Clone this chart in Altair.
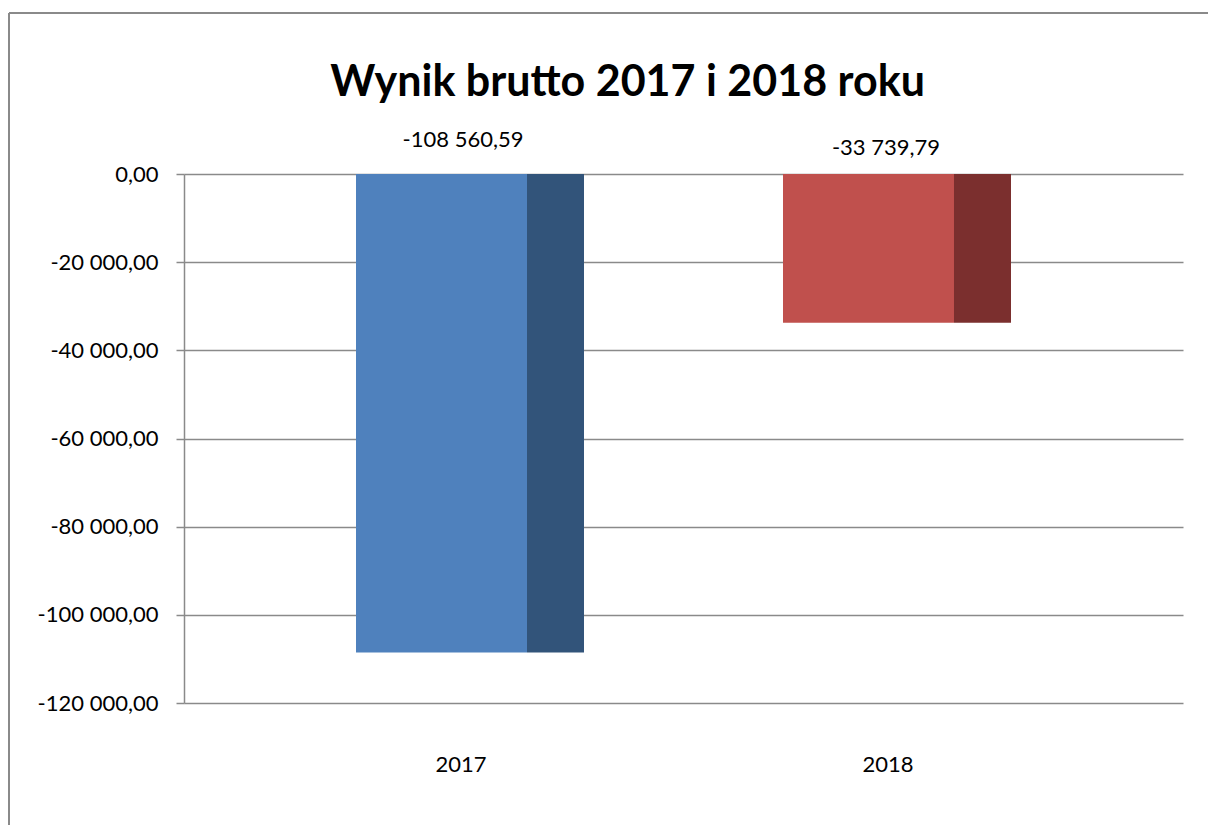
import altair as alt
import pandas as pd

years = ["2017", "2018"]
values = [-108560.59, -33739.79]
front_colors = ["#4F81BD", "#C0504D"]
side_colors = ["#32547A", "#7B2F2E"]
y_ticks = [0, -20000, -40000, -60000, -80000, -100000, -120000]


def pl(v):
    return f"{v:,.2f}".replace(",", " ").replace(".", ",")


df = pd.DataFrame({
    "year": years,
    "value": values,
    "front": front_colors,
    "side": side_colors,
    "label": [pl(v) for v in values],
    "zero": [0, 0],
})

FONT = "Lato"
GRID = "#8a8a8a"
W, H = 999, 529
FS = 22

x = alt.X(
    "year:N",
    sort=years,
    scale=alt.Scale(paddingInner=0.466, paddingOuter=0.4028),
    axis=alt.Axis(
        title=None, labelAngle=0, domain=False, ticks=False,
        labelPadding=60, labelFontSize=FS, labelFont=FONT,
        labelColor="#000000", grid=False, translate=-8.5,
    ),
)
y = alt.Y(
    "value:Q",
    scale=alt.Scale(domain=[-120000, 0], nice=False, zero=True),
    axis=alt.Axis(
        title=None, values=y_ticks, grid=True, gridColor=GRID, gridWidth=1.5,
        domain=True, domainColor=GRID, domainWidth=1.5,
        ticks=True, tickSize=8, tickColor=GRID, tickWidth=1.5,
        labelFontSize=FS, labelFont=FONT, labelColor="#000000", labelPadding=18,
        labelExpr="replace(replace(replace(format(datum.value, ',.2f'), ',', ' '), '.', ','), '\u2212', '-')",
    ),
)

base = alt.Chart(df)

front = base.mark_bar(width=171, xOffset=-28.5).encode(
    x=x, y=y, y2="zero:Q", color=alt.Color("front:N", scale=None)
)
side = base.mark_bar(width=57, xOffset=85.5).encode(
    x=x, y=y, y2="zero:Q", color=alt.Color("side:N", scale=None)
)

lab1 = base.transform_filter(alt.datum.year == "2017").mark_text(
    font=FONT, fontSize=FS, color="#000000", baseline="alphabetic", dy=-27, dx=-7
).encode(x=x, y=alt.Y("zero:Q"), text="label:N")
lab2 = base.transform_filter(alt.datum.year == "2018").mark_text(
    font=FONT, fontSize=FS, color="#000000", baseline="alphabetic", dy=-19, dx=-11
).encode(x=x, y=alt.Y("zero:Q"), text="label:N")

# outer chart-area frame
frame_top = base.mark_rule(color=GRID, strokeWidth=2).encode(
    x=alt.value(-175), x2=alt.value(1100), y=alt.value(-161)
)
frame_left = base.mark_rule(color=GRID, strokeWidth=2).encode(
    x=alt.value(-175), y=alt.value(-161), y2=alt.value(700)
)

chart = alt.layer(front, side, lab1, lab2, frame_top, frame_left).properties(
    width=W,
    height=H,
    title=alt.TitleParams(
        "Wynik brutto 2017 i 2018 roku",
        font=FONT, fontSize=43, fontWeight="bold", color="#000000",
        anchor="middle", frame="group", baseline="alphabetic",
        dx=-56, offset=-127,
    ),
    autosize=alt.AutoSizeParams(type="none"),
    padding={"left": 184, "top": 174, "right": 25, "bottom": 122},
    background="#ffffff",
).configure_view(stroke="transparent")

chart.save("out.html", embed_options={"renderer": "svg", "actions": False})
